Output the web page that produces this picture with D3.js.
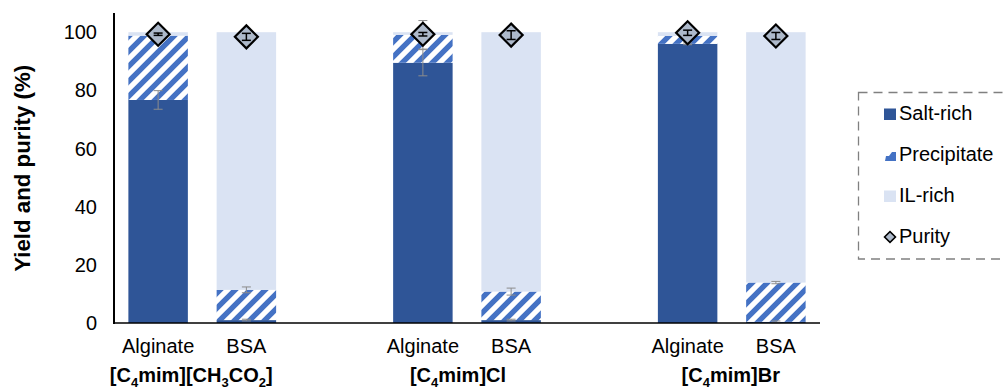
<!DOCTYPE html>
<html><head><meta charset="utf-8">
<script src="https://cdn.jsdelivr.net/npm/d3@7"></script>
<style>body{margin:0;background:#fff}svg{display:block;font-family:"Liberation Sans",Arial,sans-serif}</style>
</head><body><svg id="c" width="1003" height="389"></svg>
<script>
// ---- data ----
const slots = ["Alg1","BSA1","gap1","Alg2","BSA2","gap2","Alg3","BSA3"];
const barSlots = ["Alg1","BSA1","Alg2","BSA2","Alg3","BSA3"];
const barLabels = ["Alginate","BSA","Alginate","BSA","Alginate","BSA"];
const saltRich = [76.7, 1.0, 89.5, 1.0, 96.0, 0.4];
const saltErr = [3.2, 0.3, 4.5, 0.3, 0.3, 0.3];
const precipitate = [22.1, 10.4, 9.6, 9.8, 2.7, 13.5];
const precipErr = [0.4, 1.0, 4.9, 1.2, 0.3, 0.4];
const ilRich = saltRich.map((s,i)=>100 - s - precipitate[i]);
const purity = [99.3, 98.4, 99.3, 99.0, 99.8, 98.7];
const purityErr = [0.4, 1.2, 0.6, 1.5, 0.9, 1.2];
const groupSlots = [["Alg1","BSA1"],["Alg2","BSA2"],["Alg3","BSA3"]];
const groupLabelParts = [
  [["[C",0],["4",1],["mim][CH",0],["3",1],["CO",0],["2",1],["]",0]],
  [["[C",0],["4",1],["mim]Cl",0]],
  [["[C",0],["4",1],["mim]Br",0]]
];
const yTicks = [0,20,40,60,80,100];
const legendNames = ["Salt-rich","Precipitate","IL-rich","Purity"];
const yTitle = "Yield and purity (%)";

// ---- styles ----
const C_SALT="#2F5597", C_PREC="#4472C4", C_IL="#DAE3F3", C_PUR="#ADB9CA", C_ERR="#8c8c8c";

const svg = d3.select("#c");
const x = d3.scaleBand().domain(slots).range([114,820]).paddingInner(0.326).paddingOuter(0.163);
const y = d3.scaleLinear().domain([0,106.6]).range([323,13]);

// hatch pattern
const defs = svg.append("defs");
const pat = defs.append("pattern").attr("id","hatch").attr("patternUnits","userSpaceOnUse")
  .attr("width",15).attr("height",15);
pat.append("rect").attr("width",15).attr("height",15).attr("fill","#fff");
pat.append("path").attr("d","M-7.5,7.5L7.5,-7.5M0,15L15,0M7.5,22.5L22.5,7.5")
  .attr("stroke",C_PREC).attr("stroke-width",5.4);

const bw = x.bandwidth();
const g = svg.append("g");
barSlots.forEach((s,i)=>{
  const x0 = x(s);
  const segs = [
    {v0:0, v1:saltRich[i], fill:C_SALT},
    {v0:saltRich[i], v1:saltRich[i]+precipitate[i], fill:"url(#hatch)"},
    {v0:saltRich[i]+precipitate[i], v1:saltRich[i]+precipitate[i]+ilRich[i], fill:C_IL}
  ];
  segs.forEach(sg=>{
    g.append("rect").attr("x",x0).attr("width",bw)
      .attr("y",y(sg.v1)).attr("height",Math.max(0,y(sg.v0)-y(sg.v1))).attr("fill",sg.fill);
  });
});

// error bars
function errBar(cx, v, e, color, sw, cap){
  if(e<=0) return;
  const gg = svg.append("g").attr("stroke",color).attr("stroke-width",sw);
  gg.append("line").attr("x1",cx).attr("x2",cx).attr("y1",y(v+e)).attr("y2",y(v-e));
  gg.append("line").attr("x1",cx-cap).attr("x2",cx+cap).attr("y1",y(v+e)).attr("y2",y(v+e));
  gg.append("line").attr("x1",cx-cap).attr("x2",cx+cap).attr("y1",y(v-e)).attr("y2",y(v-e));
}
barSlots.forEach((s,i)=>{
  const cx = x(s)+bw/2;
  errBar(cx, saltRich[i], saltErr[i], C_ERR, 1, 4.5);
  errBar(cx, saltRich[i]+precipitate[i], precipErr[i], C_ERR, 1, 4.5);
});

// axes
svg.append("line").attr("x1",114).attr("x2",114).attr("y1",y.range()[1]).attr("y2",y(0)+1)
  .attr("stroke","#000").attr("stroke-width",2);
svg.append("line").attr("x1",113).attr("x2",820).attr("y1",y(0)).attr("y2",y(0))
  .attr("stroke","#000").attr("stroke-width",1.5);
svg.append("g").selectAll("text").data(yTicks).join("text")
  .attr("x",97).attr("y",d=>y(d)).attr("dy","0.35em").attr("text-anchor","end")
  .attr("font-size",20).attr("fill","#000").text(d=>d);

// purity diamonds
const diamond = d3.symbol(d3.symbolSquare, 265);
barSlots.forEach((s,i)=>{
  const cx = x(s)+bw/2;
  svg.append("path").attr("d",diamond())
    .attr("transform",`translate(${cx},${y(purity[i])}) rotate(45)`)
    .attr("fill",C_PUR).attr("stroke","#000").attr("stroke-width",2.2).attr("stroke-linejoin","miter");
  errBar(cx, purity[i], purityErr[i], "#000", 1.5, 4.5);
});

// category labels
barSlots.forEach((s,i)=>{
  svg.append("text").attr("x",x(s)+bw/2).attr("y",353).attr("text-anchor","middle")
    .attr("font-size",20).attr("fill","#000").text(barLabels[i]);
});
// group labels
const groupLabelDx = [-11,-9,-1];
groupSlots.forEach((gs,i)=>{
  const cx = (x(gs[0])+x(gs[1])+bw)/2 + groupLabelDx[i];
  const t = svg.append("text").attr("x",cx).attr("y",382).attr("text-anchor","middle")
    .attr("font-size",20).attr("font-weight","bold").attr("fill","#000");
  let prevSub = false;
  groupLabelParts[i].forEach(([txt,sub])=>{
    const ts = t.append("tspan").text(txt);
    if(sub){ ts.attr("font-size",13).attr("dy",5); prevSub=true; }
    else if(prevSub){ ts.attr("dy",-5); prevSub=false; }
  });
});

// y title
svg.append("text").attr("transform","translate(29.5,168.3) rotate(-90)").attr("text-anchor","middle")
  .attr("font-size",22).attr("font-weight","bold").attr("fill","#000")
  .attr("textLength",207).attr("lengthAdjust","spacingAndGlyphs").text(yTitle);

// legend
const lg = svg.append("g");
lg.append("rect").attr("x",858.5).attr("y",92.5).attr("width",220).attr("height",166.5)
  .attr("fill","#fff").attr("stroke","#808080").attr("stroke-width",1.3).attr("stroke-dasharray","9,6");
const lBase = [120,161,202,243];
legendNames.forEach((n,i)=>{
  const b = lBase[i];
  if(i===0) lg.append("rect").attr("x",884).attr("y",b-11.5).attr("width",12).attr("height",11.5).attr("fill",C_SALT);
  if(i===1) lg.append("path").attr("d",`M885,${b}L896,${b}L896,${b-9}L892,${b-9}L889,${b-5}L886,${b-5}Z`).attr("fill",C_PREC);
  if(i===2) lg.append("rect").attr("x",884).attr("y",b-11.5).attr("width",12).attr("height",11.5).attr("fill",C_IL);
  if(i===3) lg.append("path").attr("d",d3.symbol(d3.symbolSquare,60)())
      .attr("transform",`translate(890,${b-6}) rotate(45)`).attr("fill",C_PUR).attr("stroke","#000").attr("stroke-width",1.6);
  lg.append("text").attr("x",899).attr("y",b).attr("font-size",20).attr("fill","#000").text(n);
});
</script></body></html>
